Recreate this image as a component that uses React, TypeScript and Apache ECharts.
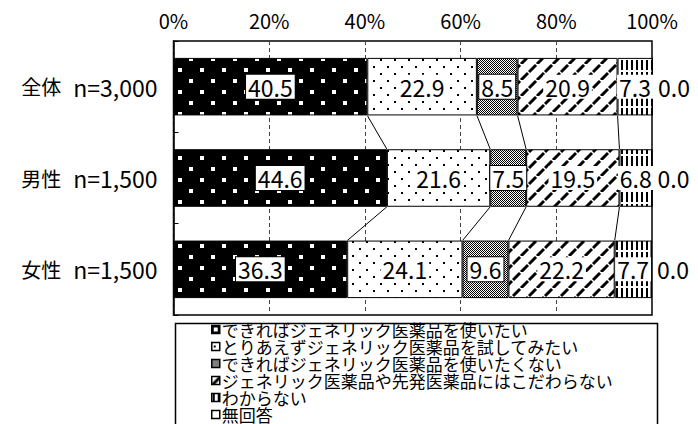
import React, { useEffect, useRef } from "react";
import * as echarts from "echarts";

const categories = ["全体 n=3,000", "男性 n=1,500", "女性 n=1,500"];
const seriesNames = [
  "できればジェネリック医薬品を使いたい",
  "とりあえずジェネリック医薬品を試してみたい",
  "できればジェネリック医薬品を使いたくない",
  "ジェネリック医薬品や先発医薬品にはこだわらない",
  "わからない",
  "無回答",
];
const s1 = [40.5, 44.6, 36.3];
const s2 = [22.9, 21.6, 24.1];
const s3 = [8.5, 7.5, 9.6];
const s4 = [20.9, 19.5, 22.2];
const s5 = [7.3, 6.8, 7.7];
const s6 = [0.0, 0.0, 0.0];
const tickLabels = ["0%", "20%", "40%", "60%", "80%", "100%"];

const FONT = '"Noto Sans CJK JP", "Noto Sans", sans-serif';

function tile(w: number, h: number, draw: (c: CanvasRenderingContext2D) => void) {
  const c = document.createElement("canvas");
  c.width = w;
  c.height = h;
  const ctx = c.getContext("2d")!;
  draw(ctx);
  return { image: c, repeat: "repeat", imageWidth: w, imageHeight: h } as any;
}

function makePatterns() {
  const p1 = tile(22, 22, (c) => {
    c.fillStyle = "#000";
    c.fillRect(0, 0, 22, 22);
    c.fillStyle = "#fff";
    c.fillRect(2, 2, 4, 4);
    c.fillRect(13, 13, 4, 4);
  });
  const p2 = tile(14, 14, (c) => {
    c.fillStyle = "#fff";
    c.fillRect(0, 0, 14, 14);
    c.fillStyle = "#000";
    c.fillRect(2, 3, 2, 2);
    c.fillRect(9, 10, 2, 2);
  });
  const p3 = tile(2, 2, (c) => {
    c.fillStyle = "#fff";
    c.fillRect(0, 0, 2, 2);
    c.fillStyle = "#000";
    c.fillRect(0, 0, 1, 1);
    c.fillRect(1, 1, 1, 1);
  });
  const p4 = tile(16, 16, (c) => {
    c.fillStyle = "#fff";
    c.fillRect(0, 0, 16, 16);
    c.strokeStyle = "#000";
    c.lineWidth = 3;
    c.lineCap = "butt";
    c.beginPath();
    c.moveTo(1, 8);
    c.lineTo(8, 1);
    c.moveTo(9, 16);
    c.lineTo(16, 9);
    c.moveTo(-7, 16);
    c.lineTo(0, 9);
    c.stroke();
  });
  const p5 = tile(5, 12, (c) => {
    c.fillStyle = "#fff";
    c.fillRect(0, 0, 5, 12);
    c.fillStyle = "#000";
    c.fillRect(1, 0, 2, 10);
  });
  return [p1, p2, p3, p4, p5, "#fff"];
}

export default function App() {
  const ref = useRef<HTMLDivElement>(null);
  useEffect(() => {
    document.body.style.margin = "0";
    const chart = echarts.init(ref.current!, null, { renderer: "svg" });
    const patterns = makePatterns();
    const data = [s1, s2, s3, s4, s5, s6];
    const BAR = 0.63;

    const barSeries = data.map((vals, i) => ({
      name: seriesNames[i],
      type: "bar",
      stack: "total",
      barWidth: "63%",
      clip: false,
      data: vals,
      itemStyle: { color: patterns[i], borderColor: "#000", borderWidth: 1 },
      label: {
        show: true,
        position: i === 5 ? "right" : "inside",
        distance: 3,
        formatter: (p: any) => Number(p.value).toFixed(1),
        fontFamily: FONT,
        fontSize: 23,
        lineHeight: 24,
        color: "#000",
        backgroundColor: "#fff",
        padding: [0, 2, 0, 2],
        borderColor: i === 0 || i === 2 ? "#000" : "transparent",
        borderWidth: i === 0 || i === 2 ? 1 : 0,
      },
      labelLayout: { hideOverlap: false },
      emphasis: { disabled: true },
      z: 2,
    }));

    // connector (series) lines between bars
    const lineData: number[][] = [];
    for (let c = 0; c < categories.length - 1; c++) {
      let a = 0;
      let b = 0;
      for (let k = 0; k < 4; k++) {
        a += data[k][c];
        b += data[k][c + 1];
        lineData.push([a, c, b, c + 1]);
      }
    }

    chart.setOption({
      animation: false,
      textStyle: { fontFamily: FONT },
      grid: {
        left: 173.5,
        right: 46,
        top: 41,
        bottom: 109,
        show: true,
        borderColor: "#000",
        borderWidth: 1.5,
        backgroundColor: "transparent",
      },
      xAxis: {
        type: "value",
        position: "top",
        min: 0,
        max: 100,
        interval: 20,
        axisLine: { show: false },
        axisTick: { show: false },
        axisLabel: {
          formatter: (v: number) => tickLabels[Math.round(v / 20)],
          fontFamily: FONT,
          fontSize: 20,
          color: "#000",
          margin: 11,
        },
        splitLine: { show: true, lineStyle: { color: "#444", type: [4, 3], width: 1 } },
      },
      yAxis: {
        type: "category",
        inverse: true,
        data: categories,
        axisLine: { show: true, lineStyle: { color: "#000", width: 1.5 } },
        axisTick: { show: true, inside: true, length: 5, lineStyle: { color: "#000" } },
        axisLabel: {
          margin: 16,
          formatter: (v: string) => {
            const idx = v.indexOf(" ");
            return `{a|${v.slice(0, idx)}}{b|${v.slice(idx + 1)}}`;
          },
          rich: {
            a: { fontFamily: FONT, fontSize: 20, color: "#000" },
            b: { fontFamily: FONT, fontSize: 23, color: "#000", padding: [0, 0, 0, 12] },
          },
        },
      },
      legend: {
        data: seriesNames,
        orient: "vertical",
        left: 211,
        top: 321,
        padding: 0,
        itemGap: 0,
        itemWidth: 8,
        itemHeight: 8,
        icon: "rect",
        selectedMode: false,
        itemStyle: { borderColor: "#000", borderWidth: 1.5 },
        textStyle: { fontFamily: FONT, fontSize: 17, lineHeight: 17, color: "#000", padding: [0, 0, 0, -3] },
      },
      graphic: [
        {
          type: "rect",
          left: 173,
          top: 321,
          shape: { width: 482, height: 120 },
          style: { fill: "none", stroke: "#000", lineWidth: 1.5 },
        },
      ],
      series: [
        ...barSeries,
        {
          type: "custom",
          name: "lines",
          data: lineData,
          z: 3,
          silent: true,
          renderItem: (params: any, api: any) => {
            const p1 = api.coord([api.value(0), api.value(1)]);
            const p2 = api.coord([api.value(2), api.value(3)]);
            const half = (api.size([0, 1])[1] * BAR) / 2;
            return {
              type: "line",
              shape: { x1: p1[0], y1: p1[1] + half, x2: p2[0], y2: p2[1] - half },
              style: { stroke: "#000", lineWidth: 1 },
            };
          },
        },
      ],
    } as any);
    return () => chart.dispose();
  }, []);
  return <div ref={ref} style={{ width: 698, height: 424 }} />;
}
